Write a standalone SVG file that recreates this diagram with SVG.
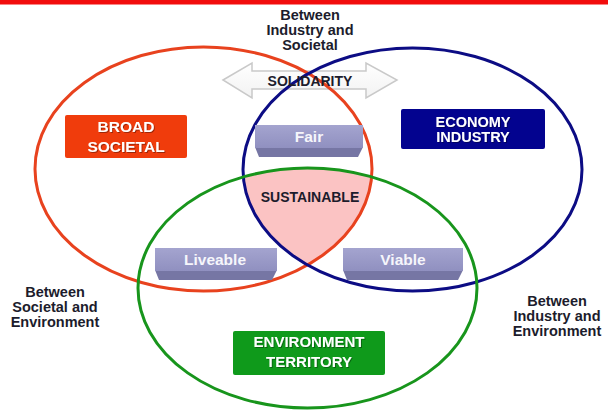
<svg xmlns="http://www.w3.org/2000/svg" width="608" height="411" viewBox="0 0 608 411">
  <style>
    .lbl { font-family: "Liberation Sans", Arial, sans-serif; font-weight: bold; fill: #1c1c2c; text-anchor: middle; }
    .box-txt { font-family: "Liberation Sans", Arial, sans-serif; font-weight: bold; fill: #ffffff; text-anchor: middle; }
    .tab-txt { font-family: "Liberation Sans", Arial, sans-serif; font-weight: bold; fill: #f6f6fb; text-anchor: middle; font-size: 15.5px; }
    .ring { fill: none; stroke-width: 3; }
    .face { fill: url(#faceGrad); }
    .bevel { fill: #7676a4; }
  </style>
  <defs>
    <linearGradient id="faceGrad" x1="0" y1="0" x2="0" y2="1">
      <stop offset="0" stop-color="#a4a4cf"/>
      <stop offset="1" stop-color="#9090c0"/>
    </linearGradient>
    <linearGradient id="arrowGrad" x1="0" y1="0" x2="0" y2="1">
      <stop offset="0" stop-color="#ffffff"/>
      <stop offset="1" stop-color="#f2f2f2"/>
    </linearGradient>
    <clipPath id="clipBlue">
      <ellipse cx="412.5" cy="169.5" rx="169.5" ry="121.5"/>
    </clipPath>
    <clipPath id="clipGreen">
      <ellipse cx="307.5" cy="288" rx="169.5" ry="120"/>
    </clipPath>
    <filter id="shadow" x="-10%" y="-20%" width="120%" height="140%">
      <feDropShadow dx="1" dy="1" stdDeviation="0.6" flood-color="#000000" flood-opacity="0.35"/>
    </filter>
  </defs>

  <rect width="608" height="411" fill="#ffffff"/>
  <rect x="0" y="0" width="608" height="4.5" fill="#f20d0d"/>

  <!-- solidarity double arrow -->
  <g id="solidarity">
    <path d="M223,80 L252,63 L252,71 L366,71 L366,63 L397,80 L366,98 L366,89 L252,89 L252,98 Z"
          fill="url(#arrowGrad)" stroke="#c9c9c9" stroke-width="1.5" stroke-linejoin="miter"/>
  </g>

  <!-- shared core of the three circles -->
  <g id="sustainable-area" clip-path="url(#clipBlue)">
    <g clip-path="url(#clipGreen)">
      <ellipse cx="203.5" cy="169" rx="168.5" ry="122" fill="#fbc3c3"/>
    </g>
  </g>

  <!-- circles -->
  <g id="connectors">
    <ellipse id="ring-societal" class="ring" cx="203.5" cy="169" rx="168.5" ry="122" stroke="#e8421e"/>
    <ellipse id="ring-economy" class="ring" cx="412.5" cy="169.5" rx="169.5" ry="121.5" stroke="#0c0c84"/>
    <ellipse id="ring-environment" class="ring" cx="307.5" cy="288" rx="169.5" ry="120" stroke="#18951c"/>
  </g>

  <text class="lbl" x="310" y="86" font-size="14px">SOLIDARITY</text>

  <!-- outer captions -->
  <g id="label-industry-societal">
    <text class="lbl" font-size="14.5px" x="310" y="20">Between</text>
    <text class="lbl" font-size="14.5px" x="310" y="35">Industry and</text>
    <text class="lbl" font-size="14.5px" x="310" y="50">Societal</text>
  </g>
  <g id="label-societal-environment">
    <text class="lbl" font-size="14.5px" x="55" y="297">Between</text>
    <text class="lbl" font-size="14.5px" x="55" y="312">Societal and</text>
    <text class="lbl" font-size="14.5px" x="55" y="327">Environment</text>
  </g>
  <g id="label-industry-environment">
    <text class="lbl" font-size="14.5px" x="557" y="306">Between</text>
    <text class="lbl" font-size="14.5px" x="557" y="321">Industry and</text>
    <text class="lbl" font-size="14.5px" x="557" y="336">Environment</text>
  </g>

  <!-- domain boxes -->
  <g id="broad-societal">
    <rect x="65" y="115" width="122" height="43" rx="2" fill="#f03c0c"/>
    <g filter="url(#shadow)">
      <text class="box-txt" font-size="15.5px" x="126" y="132">BROAD</text>
      <text class="box-txt" font-size="15.5px" x="126" y="152">SOCIETAL</text>
    </g>
  </g>
  <g id="economy-industry">
    <rect x="401" y="109" width="144" height="40" rx="2" fill="#03038f"/>
    <g filter="url(#shadow)">
      <text class="box-txt" font-size="14.5px" x="473" y="127">ECONOMY</text>
      <text class="box-txt" font-size="14.5px" x="473" y="142">INDUSTRY</text>
    </g>
  </g>
  <g id="environment-territory">
    <rect x="233" y="331" width="152" height="44" rx="2" fill="#0f9a1b"/>
    <g filter="url(#shadow)">
      <text class="box-txt" font-size="15px" x="309" y="347">ENVIRONMENT</text>
      <text class="box-txt" font-size="15px" x="309" y="367">TERRITORY</text>
    </g>
  </g>

  <!-- pairwise tabs -->
  <g id="fair">
    <path class="bevel" d="M255,147 L363,147 L358,157 L259,157 Z"/>
    <rect class="face" x="255" y="125" width="108" height="23"/>
    <text class="tab-txt" x="309" y="142">Fair</text>
  </g>
  <g id="liveable">
    <path class="bevel" d="M155,270 L277,270 L272,280 L159,280 Z"/>
    <rect class="face" x="155" y="248" width="122" height="23"/>
    <text class="tab-txt" x="215" y="265">Liveable</text>
  </g>
  <g id="viable">
    <path class="bevel" d="M343,270 L463,270 L458,280 L347,280 Z"/>
    <rect class="face" x="343" y="248" width="120" height="23"/>
    <text class="tab-txt" x="403" y="265">Viable</text>
  </g>

  <g id="sustainable">
    <text class="lbl" font-size="14px" x="310" y="202" fill="#111111">SUSTAINABLE</text>
  </g>
</svg>
